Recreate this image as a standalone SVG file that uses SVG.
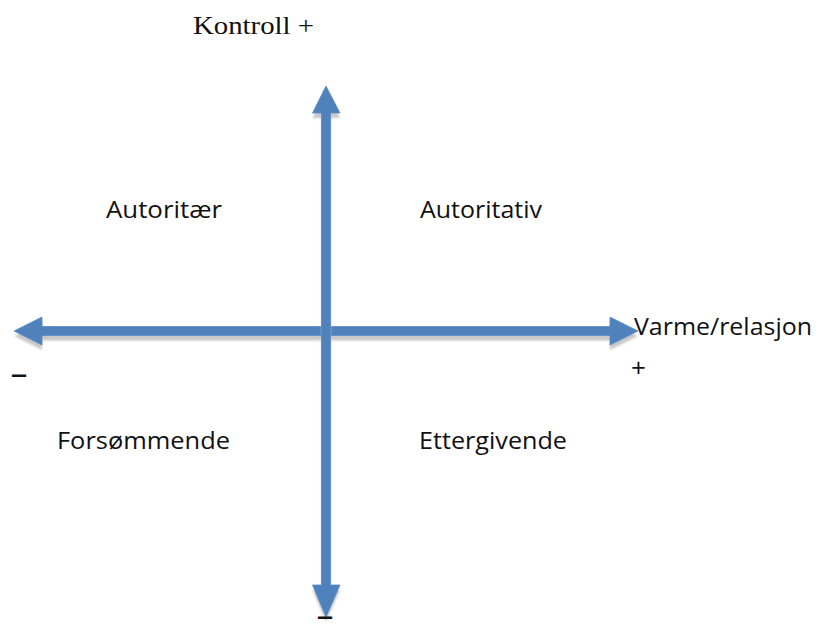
<svg xmlns="http://www.w3.org/2000/svg" width="820" height="626" viewBox="0 0 820 626">
<style>
.lbl{font-family:"Open Sans","Noto Sans","DejaVu Sans",sans-serif;font-size:24px;fill:#111}
.sym{font-family:"Open Sans","Noto Sans","DejaVu Sans",sans-serif;font-size:26px;fill:#111}
.dash{font-family:"Liberation Sans","DejaVu Sans",sans-serif;font-size:26px;font-weight:bold;fill:#111}
.ser{font-family:"Liberation Serif","Times New Roman",serif;font-size:26px;fill:#111}
.arr{fill:#4F81BD;stroke:#5a8ac4;stroke-width:0.8}
.shd{fill:#c8c8c8}
</style>
<defs>
<filter id="blur" x="-10%" y="-10%" width="120%" height="120%"><feGaussianBlur stdDeviation="0.8"/></filter>
</defs>
<rect width="820" height="626" fill="#fff"/>
<g id="connectors">
  <g id="h-axis">
    <polygon class="shd" filter="url(#blur)" transform="translate(0,5)" points="14,331 42,317 42,326.5 610,326.5 610,317 638,331 610,345 610,335.5 42,335.5 42,345"/>
    <polygon class="arr" points="14,331 42,317 42,326.5 610,326.5 610,317 638,331 610,345 610,335.5 42,335.5 42,345"/>
  </g>
  <g id="v-axis">
    <polygon class="shd" filter="url(#blur)" transform="translate(0,5)" points="326,86 340,113 330.5,113 330.5,585 340,585 326,617 312.5,585 321.5,585 321.5,113 312.5,113"/>
    <polygon class="arr" points="326,86 340,113 330.5,113 330.5,585 340,585 326,617 312.5,585 321.5,585 321.5,113 312.5,113"/>
  </g>
</g>
<g id="kontroll"><text class="ser" x="193" y="34" textLength="121" lengthAdjust="spacingAndGlyphs">Kontroll +</text></g>
<g id="autoritaer"><text class="lbl" x="106" y="218" textLength="116" lengthAdjust="spacingAndGlyphs">Autoritær</text></g>
<g id="autoritativ"><text class="lbl" x="420" y="218" textLength="122" lengthAdjust="spacingAndGlyphs">Autoritativ</text></g>
<g id="forsommende"><text class="lbl" x="57" y="449" textLength="173" lengthAdjust="spacingAndGlyphs">Forsømmende</text></g>
<g id="ettergivende"><text class="lbl" x="419" y="449" textLength="148" lengthAdjust="spacingAndGlyphs">Ettergivende</text></g>
<g id="varme"><text class="lbl" x="634" y="335" textLength="178" lengthAdjust="spacingAndGlyphs">Varme/relasjon</text></g>
<g id="plus-right"><text class="sym" x="631" y="377">+</text></g>
<g id="minus-left"><text class="dash" x="11" y="383" textLength="16" lengthAdjust="spacingAndGlyphs">–</text></g>
<g id="minus-bottom"><text class="dash" x="317" y="625" font-size="22" textLength="16" lengthAdjust="spacingAndGlyphs">–</text></g>
</svg>
